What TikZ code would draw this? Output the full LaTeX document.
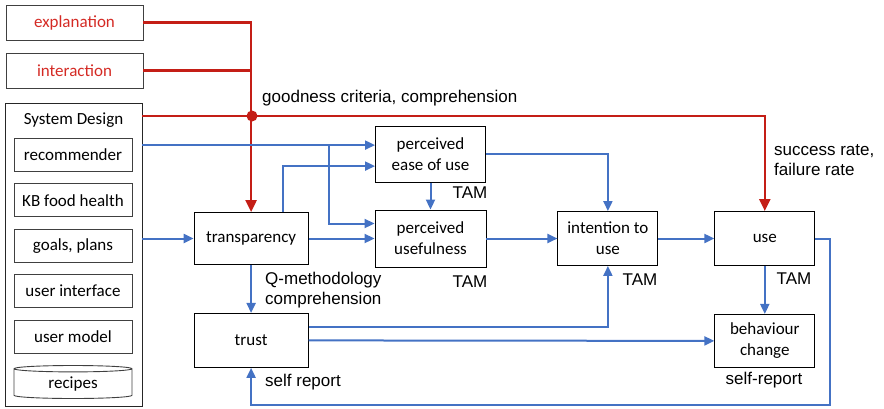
\documentclass[tikz,border=0pt]{standalone}
\usepackage{fontspec}
\setmainfont{Carlito}
\newfontfamily\arialfont{Liberation Sans}
\usetikzlibrary{arrows.meta, positioning, shapes.geometric}

\definecolor{linered}{RGB}{196,30,22}
\definecolor{textred}{RGB}{212,42,36}
\definecolor{lineblue}{RGB}{68,114,196}

\begin{document}
\begin{tikzpicture}[x=1pt,y=-1pt,>={Triangle[length=10pt,width=9pt]},
  box/.style={rectangle,draw,line width=0.9pt,align=center,inner sep=2pt,
    font=\fontsize{17}{21}\selectfont},
  part/.style={box,draw=black!75,minimum width=118pt,minimum height=33pt},
  redline/.style={draw=linered,line width=2.4pt},
  blueline/.style={draw=lineblue,line width=2pt},
  lbl/.style={font=\arialfont\fontsize{17}{20.5}\selectfont,inner sep=0pt,align=left}]
  \useasboundingbox (0,0) rectangle (884,408);

  % inputs
  \node[box,draw=black!75,text=textred,minimum width=137pt,minimum height=35pt] (expl) at (74.5,22.5) {explanation};
  \node[box,draw=black!75,text=textred,minimum width=137pt,minimum height=35pt] (inter) at (74.5,70.5) {interaction};
  \node[box,draw=black!85,minimum width=137pt,minimum height=303pt] (sys) at (73.5,254.5) {};
  \node[font=\fontsize{17}{21}\selectfont] (systitle) at (73.5,120) {System Design};
  \node[part] (rec) at (73,155) {recommender};
  \node[part] (kb) [below=11.5pt of rec] {KB food health};
  \node[part] (goals) [below=11.5pt of kb] {goals, plans};
  \node[part] (ui) [below=11.5pt of goals] {user interface};
  \node[part] (um) [below=11.5pt of ui] {user model};
  \node[part,cylinder,shape border rotate=90,aspect=0.12] (recipes) [below=11.5pt of um] {recipes};

  % model
  \node[box,minimum width=111pt,minimum height=57pt] (useful) at (430.5,238.5) {perceived\\usefulness};
  \node[box,minimum width=110pt,minimum height=56pt] (ease) [above=27pt of useful] {perceived\\ease of use};
  \node[box,minimum width=114pt,minimum height=52pt] (transp) [left=66pt of useful] {transparency};
  \node[box,minimum width=114pt,minimum height=54pt] (trust) [below=48pt of transp] {trust};
  \node[box,minimum width=100pt,minimum height=54pt] (intent) [right=71pt of useful] {intention to\\use};
  \node[box,minimum width=100pt,minimum height=54pt] (use) [right=56pt of intent] {use};
  \node[box,minimum width=100pt,minimum height=53pt] (behav) [below=48pt of use] {behaviour\\change};

  % red links
  \coordinate (hub) at (252,116);
  \draw[redline,-{Triangle[length=12pt,width=11pt]}] (expl.east) -| (transp.north);
  \draw[redline] (inter.east) -- (inter.east -| hub);
  \draw[redline,-{Triangle[length=12pt,width=11pt]}] (sys.east |- hub) -| (use.north);
  \fill[linered] (hub) circle (5.5pt);

  % blue links
  \coordinate (recin) at ([yshift=9pt]ease.west);
  \coordinate (split) at (329,146);
  \coordinate (loop) at (830,405);
  \draw[blueline,->] (sys.east |- recin) -- (recin);
  \draw[blueline,->] (split) |- ([yshift=15pt]useful.west);
  \draw[blueline,->] ([xshift=32pt]transp.north) |- ([yshift=-12pt]ease.west);
  \draw[blueline,->] (sys.east |- transp) -- (transp.west);
  \draw[blueline,->] (transp.east) -- (useful.west |- transp);
  \draw[blueline,->] (ease.south) -- (ease.south |- useful.north);
  \draw[blueline,->] (ease.east) -| (intent.north);
  \draw[blueline,->] (useful.east) -- (intent.west);
  \draw[blueline,->] (intent.east) -- (use.west);
  \draw[blueline,->] (use.south) -- (behav.north);
  \draw[blueline,->] (use.east) -| (loop) -| (trust.south);
  \draw[blueline,->] (transp.south) -- (trust.north);
  \draw[blueline,->] ([yshift=13pt]trust.east) -| (intent.south);
  \draw[blueline,->] (trust.east) -- (behav.west);

  % labels
  \node[lbl,anchor=west] (goodness) at (262,98) {goodness criteria, comprehension};
  \node[lbl,anchor=west] (rate) at (774,160) {success rate,\\failure rate};
  \node[lbl] (tamease) at (470,193) {TAM};
  \node[lbl] (tamuseful) at (470,282) {TAM};
  \node[lbl] (tamintent) at (640,280) {TAM};
  \node[lbl] (tamuse) at (794,279) {TAM};
  \node[lbl,anchor=west] (qmeth) at (265,290) {Q-methodology\\comprehension};
  \node[lbl,anchor=west] (selfrep) at (265,382) {self report};
  \node[lbl] (selfrepbc) at (764,380) {self-report};
\end{tikzpicture}
\end{document}
